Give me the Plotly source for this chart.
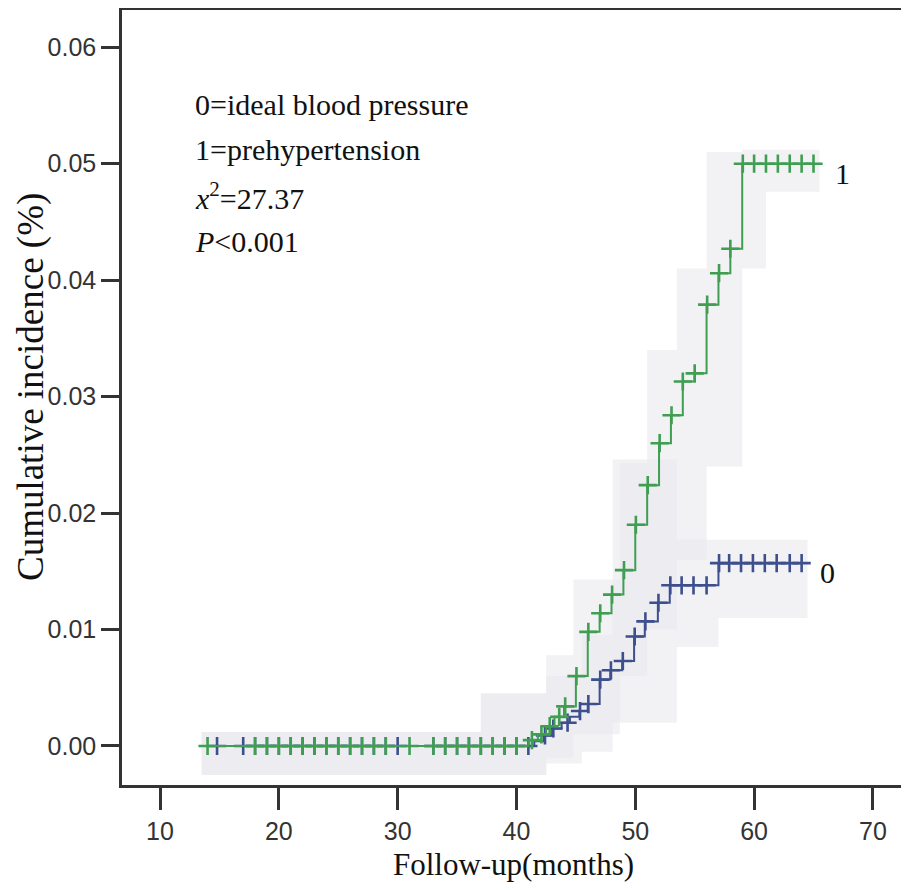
import plotly.graph_objects as go

# ---------------- data ----------------
# Group 1 (prehypertension) step curve: event times and cumulative incidence after each event
g1_times = [14.0, 41.0, 41.8, 42.5, 43.2, 44.0, 45.0, 46.0, 47.0, 48.0, 49.0, 50.0,
            51.0, 52.0, 53.0, 54.0, 55.0, 56.0, 57.0, 58.0, 59.0, 65.0]
g1_values = [0.0, 0.0005, 0.0010, 0.0017, 0.0025, 0.0034, 0.0060, 0.0098, 0.0114, 0.0130,
             0.0151, 0.0190, 0.0224, 0.0260, 0.0284, 0.0313, 0.0320, 0.0379, 0.0406,
             0.0427, 0.0500, 0.0500]
g1_censor = [14, 18, 19, 20, 21, 22, 23, 24, 25, 26, 27, 28, 29, 31, 33, 34, 35, 36, 37,
             38, 39, 40, 41.3, 42.1, 42.8, 43.6, 44.1, 45.05, 46.05, 47.05, 48.05, 49.05,
             50.05, 51.05, 52.05, 53.05, 54.0, 55.0, 56.05, 57.05, 58.0, 59.05, 60, 61, 62,
             63, 64, 65]

# Group 0 (ideal blood pressure)
g0_times = [14.0, 41.5, 42.3, 43.0, 43.8, 44.5, 45.3, 46.0, 47.0, 47.9, 48.9, 49.9, 50.8,
            51.9, 52.9, 57.0, 64.0]
g0_values = [0.0, 0.0004, 0.0009, 0.0015, 0.0020, 0.0025, 0.0030, 0.0036, 0.0057, 0.0065,
             0.0073, 0.0094, 0.0107, 0.0123, 0.0138, 0.0157, 0.0157]
g0_censor = [14.8, 17, 18, 19, 20, 21, 22, 23, 24, 25, 26, 27, 28, 29, 30, 33, 34, 35, 36,
             37, 38, 39, 40, 41, 42.4, 43.1, 44.3, 45.35, 46.05, 47.05, 47.95, 48.95, 49.95,
             50.85, 51.95, 52.95, 53.9, 54.9, 56.0, 57.05, 57.9, 58.9, 59.9, 60.9, 61.9, 63, 64]

# Confidence bands (step functions)
g1_band_t = [13.5, 37.0, 42.5, 44.8, 48.7, 51.0, 53.5, 56.0, 59.0, 61.0, 65.5]
g1_band_lo = [-0.0025, -0.0025, -0.0010, 0.0010, 0.0060, 0.0100, 0.0160, 0.0240, 0.0410,
              0.0476, 0.0476]
g1_band_hi = [0.0012, 0.0045, 0.0078, 0.0143, 0.0243, 0.0340, 0.0410, 0.0510, 0.0512,
              0.0512, 0.0512]

g0_band_t = [13.5, 37.0, 42.5, 45.5, 48.1, 53.5, 57.0, 64.5]
g0_band_lo = [-0.0025, -0.0025, -0.0015, -0.0005, 0.0020, 0.0085, 0.0110, 0.0110]
g0_band_hi = [0.0012, 0.0045, 0.0060, 0.0095, 0.0246, 0.0177, 0.0177, 0.0177]

x_ticks = [10, 20, 30, 40, 50, 60, 70]
y_ticks = [0.00, 0.01, 0.02, 0.03, 0.04, 0.05, 0.06]

annot_lines = ["0=ideal blood pressure", "1=prehypertension",
               "<i>x</i><sup>2</sup>=27.37", "<i>P</i>&lt;0.001"]

GREEN = "#3f9e52"
BLUE = "#3d4f8c"
BAND = "rgba(232,232,237,0.55)"
SERIF = "Liberation Serif, Times New Roman, serif"
SANS = "Liberation Sans Narrow, Arial Narrow, Liberation Sans, sans-serif"


def step_value(times, values, t):
    v = values[0]
    for tt, vv in zip(times, values):
        if tt <= t + 1e-9:
            v = vv
    return v


fig = go.Figure()

# bands
for bt, lo, hi in [(g1_band_t, g1_band_lo, g1_band_hi), (g0_band_t, g0_band_lo, g0_band_hi)]:
    fig.add_trace(go.Scatter(x=bt, y=lo, mode="lines", line=dict(width=0, shape="hv"),
                             hoverinfo="skip", showlegend=False))
    fig.add_trace(go.Scatter(x=bt, y=hi, mode="lines", line=dict(width=0, shape="hv"),
                             fill="tonexty", fillcolor=BAND, hoverinfo="skip",
                             showlegend=False))

# group 0 curve + censors
fig.add_trace(go.Scatter(x=g0_times, y=g0_values, mode="lines",
                         line=dict(color=BLUE, width=2, shape="hv"), showlegend=False))
fig.add_trace(go.Scatter(x=g0_censor, y=[step_value(g0_times, g0_values, t) for t in g0_censor],
                         mode="markers",
                         marker=dict(symbol="cross-thin", size=13,
                                     line=dict(color=BLUE, width=2.6)),
                         showlegend=False))

# group 1 curve + censors
fig.add_trace(go.Scatter(x=g1_times, y=g1_values, mode="lines",
                         line=dict(color=GREEN, width=2, shape="hv"), showlegend=False))
fig.add_trace(go.Scatter(x=g1_censor, y=[step_value(g1_times, g1_values, t) for t in g1_censor],
                         mode="markers",
                         marker=dict(symbol="cross-thin", size=13,
                                     line=dict(color=GREEN, width=2.6)),
                         showlegend=False))

# group labels at curve ends
fig.add_annotation(x=67.4, y=0.0492, text="1", showarrow=False, xref="x", yref="y",
                   font=dict(family=SERIF, size=30, color="#111"))
fig.add_annotation(x=66.2, y=0.0149, text="0", showarrow=False, xref="x", yref="y",
                   font=dict(family=SERIF, size=30, color="#111"))

# statistics block
line_y = [0.8787, 0.8194, 0.7600, 0.7019]
for txt, yy in zip(annot_lines, line_y):
    fig.add_annotation(x=0.0907, y=yy, text=txt, showarrow=False, xref="paper", yref="paper",
                       xanchor="left", yanchor="middle",
                       font=dict(family=SERIF, size=30, color="#111"))

# y-axis title (placed as annotation to match position)
fig.add_annotation(x=-0.1162, y=0.5135, text="Cumulative incidence (%)", textangle=-90,
                   showarrow=False, xref="paper", yref="paper",
                   xanchor="center", yanchor="middle",
                   font=dict(family=SERIF, size=37, color="#111"))

# faint right border
fig.add_shape(type="line", xref="paper", yref="paper", x0=1, x1=1, y0=0, y1=1,
              line=dict(color="#dcdcdc", width=1.5))

# page body has an 8px margin, so the figure is 8px smaller and margins shifted
fig.update_layout(
    width=901, height=882,
    margin=dict(l=114, r=4, t=2, b=105, autoexpand=False),
    paper_bgcolor="white", plot_bgcolor="white",
    xaxis=dict(range=[6.8, 72.7], tickvals=x_ticks, ticks="outside", ticklen=22,
               tickwidth=2.5, tickcolor="#333", showline=True, linecolor="#333",
               linewidth=2.5, mirror=True, showgrid=False, zeroline=False,
               automargin=False,
               tickfont=dict(family=SANS, size=25, color="#333"),
               title=dict(text="Follow-up(months)", standoff=10,
                          font=dict(family=SERIF, size=31, color="#111"))),
    yaxis=dict(range=[-0.00335, 0.0632], tickvals=y_ticks, tickformat=".2f",
               ticks="outside", ticklen=18, tickwidth=2.5, tickcolor="#333",
               showline=True, linecolor="#333", linewidth=2.5, showgrid=False,
               zeroline=False, automargin=False,
               tickfont=dict(family=SANS, size=25, color="#333")),
)

fig.write_html("out.html")
